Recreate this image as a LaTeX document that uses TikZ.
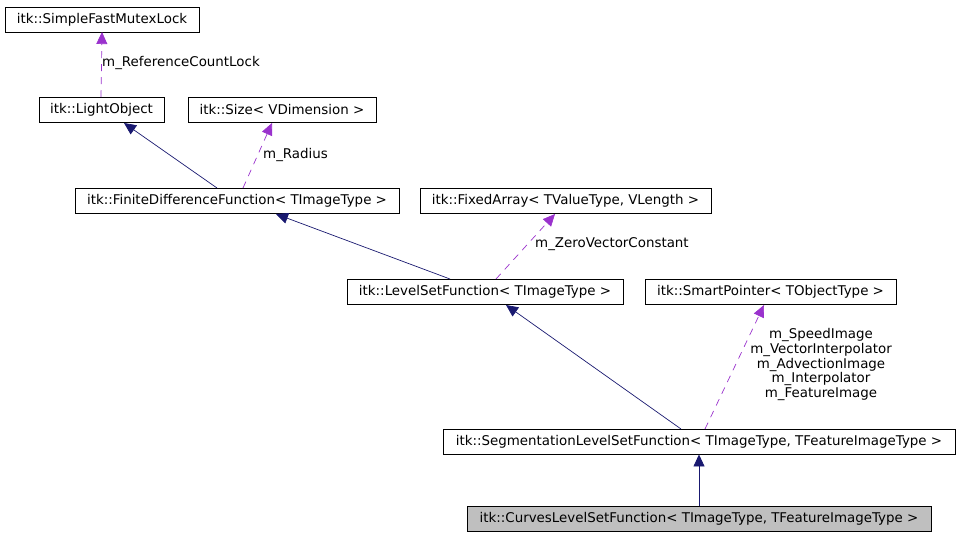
\documentclass[tikz,border=0pt]{standalone}
\usepackage{fontspec}
\setmainfont{DejaVu Sans}
\usetikzlibrary{arrows.meta}
\definecolor{navyc}{HTML}{191970}
\definecolor{purp}{HTML}{9A32CD}
\definecolor{grayfill}{HTML}{BFBFBF}
\begin{document}
\begin{tikzpicture}[x=1pt,y=-1pt,
  cls/.style={draw=black, line width=0.9pt, inner sep=0pt, anchor=center, font=\fontsize{13.4}{15}\selectfont},
  inh/.style={draw=navyc, line width=0.7pt, -{Triangle[length=12pt,width=11pt]}},
  use/.style={draw=purp, line width=0.7pt, dash pattern=on 7pt off 6pt, -{Triangle[length=12pt,width=11pt]}},
  lbl/.style={font=\fontsize{13.4}{14.7}\selectfont, inner sep=0pt, align=center}]
\useasboundingbox (0,0) rectangle (960,536);
\node[cls, minimum width=194pt, minimum height=25pt] (mutex) at (102,19.5) {itk::SimpleFastMutexLock};
\node[cls, minimum width=125pt, minimum height=25pt] (light) at (101.5,109.5) {itk::LightObject};
\node[cls, minimum width=188pt, minimum height=25pt] (size) at (282,109.5) {itk::Size< VDimension >};
\node[cls, minimum width=324pt, minimum height=25pt] (fdf) at (237,200.5) {itk::FiniteDifferenceFunction< TImageType >};
\node[cls, minimum width=291pt, minimum height=25pt] (fixed) at (565.5,200.5) {itk::FixedArray< TValueType, VLength >};
\node[cls, minimum width=276pt, minimum height=25pt] (lsf) at (485,291.5) {itk::LevelSetFunction< TImageType >};
\node[cls, minimum width=251pt, minimum height=25pt] (smart) at (770.5,291.5) {itk::SmartPointer< TObjectType >};
\node[cls, minimum width=512pt, minimum height=25pt] (seg) at (699,441.5) {itk::SegmentationLevelSetFunction< TImageType, TFeatureImageType >};
\node[cls, fill=grayfill, minimum width=464pt, minimum height=25pt] (curves) at (699,518.5) {itk::CurvesLevelSetFunction< TImageType, TFeatureImageType >};

\coordinate (lightT) at (101,97);
\coordinate (mutexB) at (102,32);
\draw[use] (lightT) -- (mutexB);
\node[lbl, anchor=west] (l1) at (102,63) {m\_ReferenceCountLock};

\coordinate (fdfA) at (217,188);
\coordinate (lightB) at (124,123);
\draw[inh] (fdfA) -- (lightB);
\coordinate (fdfB) at (243,188);
\coordinate (sizeB) at (272,123);
\draw[use] (fdfB) -- (sizeB);
\node[lbl, anchor=west] (l2) at (263,154.5) {m\_Radius};

\coordinate (lsfA) at (450,279);
\coordinate (fdfC) at (276,214);
\draw[inh] (lsfA) -- (fdfC);
\coordinate (lsfB) at (496,279);
\coordinate (fixedB) at (555,214);
\draw[use] (lsfB) -- (fixedB);
\node[lbl, anchor=west] (l3) at (535,244) {m\_ZeroVectorConstant};

\coordinate (segA) at (681,429);
\coordinate (lsfC) at (506,305);
\draw[inh] (segA) -- (lsfC);
\coordinate (segB) at (705,429);
\coordinate (smartB) at (764,305);
\draw[use] (segB) -- (smartB);
\node[lbl] (l4) at (821,364.5) {m\_SpeedImage\\m\_VectorInterpolator\\m\_AdvectionImage\\m\_Interpolator\\m\_FeatureImage};

\draw[inh] (curves.north) -- (seg.south);
\end{tikzpicture}
\end{document}
